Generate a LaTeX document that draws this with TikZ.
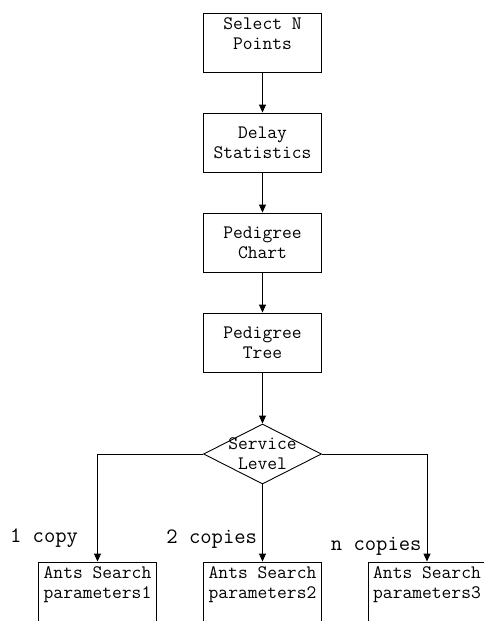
\documentclass[tikz,border=0pt]{standalone}
\usepackage{fontspec}
\usetikzlibrary{shapes.geometric,arrows.meta}

\begin{document}
\begin{tikzpicture}[x=1pt, y=-1pt,
        box/.style={draw, line width=0.9pt, minimum width=118pt, minimum height=59pt, inner sep=0pt, align=center, font=\ttfamily\fontsize{19}{20}\selectfont},
        topbox/.style={box, text depth=17pt},
        choice/.style={draw, line width=0.9pt, diamond, aspect=2, minimum width=118pt, minimum height=60pt, inner sep=-12pt, align=center, font=\ttfamily\fontsize{19}{20}\selectfont},
        tag/.style={inner sep=0pt, font=\ttfamily\fontsize{22}{24}\selectfont},
        arrow/.style={-{Triangle[length=8pt, width=7pt]}, line width=0.9pt}
    ]
        \useasboundingbox (0,0) rectangle (484,621);

        \node[topbox] (sel) at (262.5, 42.5) {Select N\\Points};
        \node[box] (del) at (262.5, 142.5) {Delay\\Statistics};
        \node[box] (chart) at (262.5, 242.5) {Pedigree\\Chart};
        \node[box] (tree) at (262.5, 342.5) {Pedigree\\Tree};
        \node[choice] (svc) at (262.5, 454) {Service\\Level};
        \node[topbox] (par1) at (97.5, 591.5) {Ants Search\\parameters1};
        \node[topbox] (par2) at (262.5, 591.5) {Ants Search\\parameters2};
        \node[topbox] (par3) at (427, 591.5) {Ants Search\\parameters3};

        \draw[arrow] (sel) -- (del);
        \draw[arrow] (del) -- (chart);
        \draw[arrow] (chart) -- (tree);
        \draw[arrow] (tree) -- (svc);
        \draw[arrow] (svc.west) -| node[tag, pos=0.913, anchor=base east, xshift=-19pt] {1 copy} (par1.north);
        \draw[arrow] (svc) -- node[tag, pos=0.76, anchor=base east, xshift=-5pt] {2 copies} (par2);
        \draw[arrow] (svc.east) -| node[tag, pos=0.95, anchor=base east, xshift=-5pt] {n copies} (par3.north);
    \end{tikzpicture}
\end{document}
